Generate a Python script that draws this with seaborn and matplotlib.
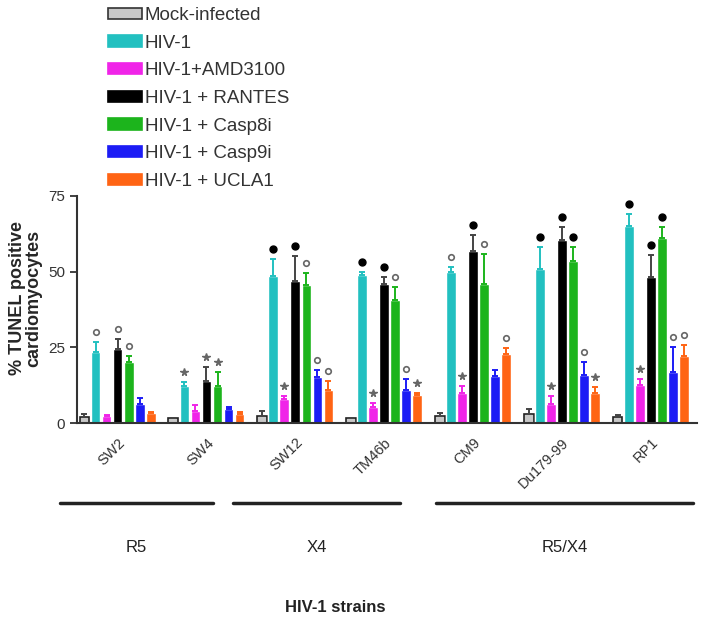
import matplotlib
matplotlib.use("Agg")
import matplotlib.pyplot as plt
from matplotlib.patches import Patch
from matplotlib.container import BarContainer
import seaborn as sns
import pandas as pd

strains = ["SW2", "SW4", "SW12", "TM46b", "CM9", "Du179-99", "RP1"]
treatments = ["Mock-infected", "HIV-1", "HIV-1+AMD3100", "HIV-1 + RANTES",
              "HIV-1 + Casp8i", "HIV-1 + Casp9i", "HIV-1 + UCLA1"]

mock = [2.1, 1.5, 2.4, 1.5, 2.3, 3.0, 2.1]
hiv = [23.5, 12.2, 48.5, 48.8, 49.9, 50.8, 65.1]
amd = [2.3, 4.1, 7.8, 5.2, 10.0, 6.3, 12.5]
rantes = [24.4, 14.0, 46.9, 45.9, 56.8, 60.4, 48.1]
casp8 = [20.2, 12.2, 45.5, 40.6, 45.9, 53.6, 61.2]
casp9 = [6.3, 4.6, 15.1, 10.9, 15.5, 15.8, 16.9]
ucla = [3.4, 2.9, 10.9, 9.1, 22.7, 10.0, 22.1]

mock_err = [0.9, 0.3, 1.7, 0.3, 1.1, 1.5, 0.4]
hiv_err = [3.1, 1.3, 5.8, 1.1, 1.7, 7.2, 3.9]
amd_err = [0.4, 1.8, 1.1, 1.3, 2.2, 2.6, 2.0]
rantes_err = [3.3, 4.6, 8.2, 2.2, 5.2, 4.2, 7.3]
casp8_err = [2.0, 4.5, 4.2, 4.4, 9.9, 4.4, 3.6]
casp9_err = [1.8, 0.6, 2.4, 3.5, 2.0, 4.4, 8.3]
ucla_err = [0.4, 0.6, 3.1, 0.8, 2.0, 1.8, 3.6]

# significance: o = open circle, f = filled circle, * = star
mock_sig = ["", "", "", "", "", "", ""]
hiv_sig = ["o", "*", "f", "f", "o", "f", "f"]
amd_sig = ["", "", "*", "*", "*", "*", "*"]
rantes_sig = ["o", "*", "f", "f", "f", "f", "f"]
casp8_sig = ["o", "*", "o", "o", "o", "f", "f"]
casp9_sig = ["", "", "o", "o", "", "o", "o"]
ucla_sig = ["", "", "o", "*", "o", "*", "o"]

tropism = ["R5", "X4", "R5/X4"]
tropism_span = [(-0.65, 1.07), (1.30, 3.18), (3.58, 6.48)]

means = [mock, hiv, amd, rantes, casp8, casp9, ucla]
errs = [mock_err, hiv_err, amd_err, rantes_err, casp8_err, casp9_err, ucla_err]
sigs = [mock_sig, hiv_sig, amd_sig, rantes_sig, casp8_sig, casp9_sig, ucla_sig]

colors = ["#c8c8c8", "#22c0c0", "#f024e8", "#000000", "#1cb41c", "#1c1cf5", "#ff6414"]
err_colors = ["#444444", "#22c0c0", "#f024e8", "#444444", "#1cb41c", "#1c1cf5", "#ff6414"]

rows = []
for t, vals in zip(treatments, means):
    for s, v in zip(strains, vals):
        rows.append({"strain": s, "treatment": t, "value": v})
df = pd.DataFrame(rows)

sns.set_style("ticks")
plt.rcParams["font.family"] = ["Liberation Sans", "DejaVu Sans"]

fig = plt.figure(figsize=(7.04, 6.18), dpi=100)
ax = fig.add_axes([0.109, 0.3155, 0.881, 0.3675])

sns.barplot(data=df, x="strain", y="value", hue="treatment",
            order=strains, hue_order=treatments, palette=colors, saturation=1,
            width=0.87, gap=0.12, errorbar=None, legend=False, ax=ax)

bar_sets = [c for c in ax.containers if isinstance(c, BarContainer)]
for i, cont in enumerate(bar_sets):
    xs = [b.get_x() + b.get_width() / 2 for b in cont]
    if i == 0:
        for b in cont:
            b.set_edgecolor("#222222")
            b.set_linewidth(1.2)
    ax.errorbar(xs, means[i], yerr=[[0] * len(xs), errs[i]], fmt="none",
                ecolor=err_colors[i], elinewidth=1.4, capsize=2.5, capthick=1.4,
                zorder=1)
    for x, m, e, s in zip(xs, means[i], errs[i], sigs[i]):
        y = m + e + 3.3
        if s == "o":
            ax.plot(x, y, marker="o", ms=4, mfc="white", mec="#666666", mew=1.2)
        elif s == "f":
            ax.plot(x, y, marker="o", ms=5, color="black")
        elif s == "*":
            ax.plot(x, y, marker="*", ms=5.5, color="#666666")

ax.set_ylim(0, 75)
ax.set_xlim(-0.46, 6.52)
ax.set_yticks([0, 25, 50, 75])
ax.set_xlabel("")
ax.set_ylabel("% TUNEL positive\ncardiomyocytes", fontsize=13, fontweight="bold",
              linespacing=1.0)
ax.yaxis.set_label_coords(-0.055, 0.55)
sns.despine(ax=ax)
for sp in ["left", "bottom"]:
    ax.spines[sp].set_linewidth(1.5)
    ax.spines[sp].set_color("#333333")
ax.tick_params(axis="y", labelsize=11, colors="#333333", length=5, width=1.3)
ax.tick_params(axis="x", length=0, pad=9)
ax.set_xticks(range(len(strains)))
ax.set_xticklabels(strains, rotation=45, ha="right", rotation_mode="anchor",
                   fontsize=10.5, color="#333333")

tr = ax.get_xaxis_transform()
for name, (x0, x1) in zip(tropism, tropism_span):
    ax.plot([x0, x1], [-0.35, -0.35], color="#222222", lw=2.5, transform=tr,
            clip_on=False)
    ax.text((x0 + x1) / 2, -0.55, name, transform=tr, ha="center", va="center",
            fontsize=12, color="#222222")

fig.text(335 / 704, 1 - 607 / 618, "HIV-1 strains", ha="center", va="center",
         fontsize=12, fontweight="bold", color="#222222")

handles = [Patch(facecolor=c, edgecolor=("#333333" if i == 0 else c), linewidth=1.2)
           for i, c in enumerate(colors)]
fig.legend(handles, treatments, loc="upper left",
           bbox_to_anchor=(108 / 704, 1 - 7 / 618),
           frameon=False, fontsize=13.5, handlelength=1.8, handleheight=0.55,
           handletextpad=0.15, labelspacing=0.57, borderpad=0, borderaxespad=0,
           labelcolor="#333333")

fig.savefig("out.png", dpi=100)
